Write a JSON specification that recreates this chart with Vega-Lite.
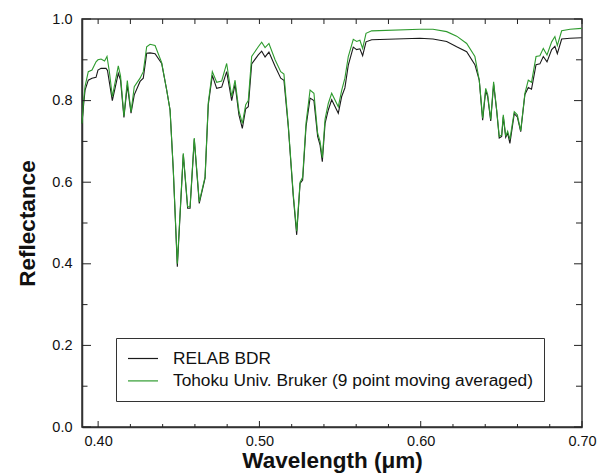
{
  "$schema": "https://vega.github.io/schema/vega-lite/v6.json",
  "width": 500,
  "height": 408,
  "autosize": {"type": "none"},
  "padding": {"left": 82, "top": 19, "right": 22, "bottom": 49},
  "background": "white",
  "config": {
    "font": "Liberation Sans",
    "view": {"stroke": "#333333", "strokeWidth": 1.5},
    "axis": {"domainColor": "#333333", "domainWidth": 1.5, "grid": false, "labelColor": "#111111", "titleColor": "#111111"}
  },
  "datasets": {
    "xt": [
      {"v":0.40,"k":"major"},{"v":0.42,"k":"minor"},{"v":0.44,"k":"minor"},{"v":0.46,"k":"minor"},{"v":0.48,"k":"minor"},
      {"v":0.50,"k":"major"},{"v":0.52,"k":"minor"},{"v":0.54,"k":"minor"},{"v":0.56,"k":"minor"},{"v":0.58,"k":"minor"},
      {"v":0.60,"k":"major"},{"v":0.62,"k":"minor"},{"v":0.64,"k":"minor"},{"v":0.66,"k":"minor"},{"v":0.68,"k":"minor"},
      {"v":0.70,"k":"major"}
    ],
    "yt": [
      {"v":0.0,"k":"major"},{"v":0.1,"k":"minor"},{"v":0.2,"k":"major"},{"v":0.3,"k":"minor"},{"v":0.4,"k":"major"},
      {"v":0.5,"k":"minor"},{"v":0.6,"k":"major"},{"v":0.7,"k":"minor"},{"v":0.8,"k":"major"},{"v":0.9,"k":"minor"},
      {"v":1.0,"k":"major"}
    ],
    "spectra": [
    {"s":"RELAB BDR","w":0.3900,"r":0.744},{"s":"RELAB BDR","w":0.3910,"r":0.790},{"s":"RELAB BDR","w":0.3919,"r":0.826},{"s":"RELAB BDR","w":0.3939,"r":0.850},{"s":"RELAB BDR","w":0.3962,"r":0.855},{"s":"RELAB BDR","w":0.3987,"r":0.857},{"s":"RELAB BDR","w":0.3999,"r":0.875},{"s":"RELAB BDR","w":0.4018,"r":0.879},{"s":"RELAB BDR","w":0.4049,"r":0.879},{"s":"RELAB BDR","w":0.4058,"r":0.874},{"s":"RELAB BDR","w":0.4088,"r":0.800},{"s":"RELAB BDR","w":0.4125,"r":0.867},{"s":"RELAB BDR","w":0.4139,"r":0.850},{"s":"RELAB BDR","w":0.4160,"r":0.759},{"s":"RELAB BDR","w":0.4181,"r":0.838},{"s":"RELAB BDR","w":0.4204,"r":0.769},{"s":"RELAB BDR","w":0.4224,"r":0.814},{"s":"RELAB BDR","w":0.4260,"r":0.847},{"s":"RELAB BDR","w":0.4280,"r":0.855},{"s":"RELAB BDR","w":0.4301,"r":0.916},{"s":"RELAB BDR","w":0.4322,"r":0.917},{"s":"RELAB BDR","w":0.4353,"r":0.915},{"s":"RELAB BDR","w":0.4394,"r":0.891},{"s":"RELAB BDR","w":0.4425,"r":0.826},{"s":"RELAB BDR","w":0.4446,"r":0.777},{"s":"RELAB BDR","w":0.4466,"r":0.630},{"s":"RELAB BDR","w":0.4491,"r":0.393},{"s":"RELAB BDR","w":0.4528,"r":0.668},{"s":"RELAB BDR","w":0.4555,"r":0.536},{"s":"RELAB BDR","w":0.4570,"r":0.536},{"s":"RELAB BDR","w":0.4596,"r":0.705},{"s":"RELAB BDR","w":0.4627,"r":0.548},{"s":"RELAB BDR","w":0.4663,"r":0.610},{"s":"RELAB BDR","w":0.4683,"r":0.790},{"s":"RELAB BDR","w":0.4708,"r":0.862},{"s":"RELAB BDR","w":0.4735,"r":0.830},{"s":"RELAB BDR","w":0.4766,"r":0.833},{"s":"RELAB BDR","w":0.4797,"r":0.871},{"s":"RELAB BDR","w":0.4828,"r":0.800},{"s":"RELAB BDR","w":0.4849,"r":0.840},{"s":"RELAB BDR","w":0.4873,"r":0.765},{"s":"RELAB BDR","w":0.4894,"r":0.732},{"s":"RELAB BDR","w":0.4915,"r":0.780},{"s":"RELAB BDR","w":0.4931,"r":0.785},{"s":"RELAB BDR","w":0.4952,"r":0.890},{"s":"RELAB BDR","w":0.4993,"r":0.912},{"s":"RELAB BDR","w":0.5014,"r":0.921},{"s":"RELAB BDR","w":0.5035,"r":0.907},{"s":"RELAB BDR","w":0.5059,"r":0.919},{"s":"RELAB BDR","w":0.5097,"r":0.884},{"s":"RELAB BDR","w":0.5132,"r":0.855},{"s":"RELAB BDR","w":0.5152,"r":0.850},{"s":"RELAB BDR","w":0.5179,"r":0.736},{"s":"RELAB BDR","w":0.5210,"r":0.565},{"s":"RELAB BDR","w":0.5231,"r":0.471},{"s":"RELAB BDR","w":0.5252,"r":0.597},{"s":"RELAB BDR","w":0.5268,"r":0.605},{"s":"RELAB BDR","w":0.5289,"r":0.736},{"s":"RELAB BDR","w":0.5314,"r":0.806},{"s":"RELAB BDR","w":0.5338,"r":0.800},{"s":"RELAB BDR","w":0.5361,"r":0.712},{"s":"RELAB BDR","w":0.5376,"r":0.691},{"s":"RELAB BDR","w":0.5390,"r":0.650},{"s":"RELAB BDR","w":0.5407,"r":0.744},{"s":"RELAB BDR","w":0.5427,"r":0.777},{"s":"RELAB BDR","w":0.5448,"r":0.802},{"s":"RELAB BDR","w":0.5489,"r":0.769},{"s":"RELAB BDR","w":0.5510,"r":0.810},{"s":"RELAB BDR","w":0.5530,"r":0.831},{"s":"RELAB BDR","w":0.5551,"r":0.887},{"s":"RELAB BDR","w":0.5582,"r":0.931},{"s":"RELAB BDR","w":0.5603,"r":0.925},{"s":"RELAB BDR","w":0.5623,"r":0.927},{"s":"RELAB BDR","w":0.5640,"r":0.910},{"s":"RELAB BDR","w":0.5661,"r":0.944},{"s":"RELAB BDR","w":0.5696,"r":0.949},{"s":"RELAB BDR","w":0.5995,"r":0.953},{"s":"RELAB BDR","w":0.6076,"r":0.951},{"s":"RELAB BDR","w":0.6161,"r":0.945},{"s":"RELAB BDR","w":0.6223,"r":0.932},{"s":"RELAB BDR","w":0.6285,"r":0.920},{"s":"RELAB BDR","w":0.6336,"r":0.888},{"s":"RELAB BDR","w":0.6363,"r":0.850},{"s":"RELAB BDR","w":0.6384,"r":0.752},{"s":"RELAB BDR","w":0.6403,"r":0.825},{"s":"RELAB BDR","w":0.6415,"r":0.810},{"s":"RELAB BDR","w":0.6434,"r":0.750},{"s":"RELAB BDR","w":0.6452,"r":0.840},{"s":"RELAB BDR","w":0.6471,"r":0.775},{"s":"RELAB BDR","w":0.6487,"r":0.708},{"s":"RELAB BDR","w":0.6502,"r":0.712},{"s":"RELAB BDR","w":0.6512,"r":0.760},{"s":"RELAB BDR","w":0.6527,"r":0.710},{"s":"RELAB BDR","w":0.6539,"r":0.720},{"s":"RELAB BDR","w":0.6553,"r":0.695},{"s":"RELAB BDR","w":0.6580,"r":0.768},{"s":"RELAB BDR","w":0.6599,"r":0.760},{"s":"RELAB BDR","w":0.6620,"r":0.724},{"s":"RELAB BDR","w":0.6646,"r":0.815},{"s":"RELAB BDR","w":0.6667,"r":0.832},{"s":"RELAB BDR","w":0.6687,"r":0.828},{"s":"RELAB BDR","w":0.6715,"r":0.888},{"s":"RELAB BDR","w":0.6739,"r":0.890},{"s":"RELAB BDR","w":0.6760,"r":0.908},{"s":"RELAB BDR","w":0.6783,"r":0.895},{"s":"RELAB BDR","w":0.6812,"r":0.925},{"s":"RELAB BDR","w":0.6832,"r":0.933},{"s":"RELAB BDR","w":0.6847,"r":0.915},{"s":"RELAB BDR","w":0.6874,"r":0.951},{"s":"RELAB BDR","w":0.6926,"r":0.953},{"s":"RELAB BDR","w":0.6998,"r":0.954},
    {"s":"Tohoku Univ. Bruker (9 point moving averaged)","w":0.3900,"r":0.744},{"s":"Tohoku Univ. Bruker (9 point moving averaged)","w":0.3910,"r":0.800},{"s":"Tohoku Univ. Bruker (9 point moving averaged)","w":0.3919,"r":0.835},{"s":"Tohoku Univ. Bruker (9 point moving averaged)","w":0.3939,"r":0.871},{"s":"Tohoku Univ. Bruker (9 point moving averaged)","w":0.3962,"r":0.875},{"s":"Tohoku Univ. Bruker (9 point moving averaged)","w":0.3987,"r":0.895},{"s":"Tohoku Univ. Bruker (9 point moving averaged)","w":0.3999,"r":0.900},{"s":"Tohoku Univ. Bruker (9 point moving averaged)","w":0.4018,"r":0.902},{"s":"Tohoku Univ. Bruker (9 point moving averaged)","w":0.4040,"r":0.897},{"s":"Tohoku Univ. Bruker (9 point moving averaged)","w":0.4055,"r":0.908},{"s":"Tohoku Univ. Bruker (9 point moving averaged)","w":0.4070,"r":0.870},{"s":"Tohoku Univ. Bruker (9 point moving averaged)","w":0.4088,"r":0.810},{"s":"Tohoku Univ. Bruker (9 point moving averaged)","w":0.4125,"r":0.885},{"s":"Tohoku Univ. Bruker (9 point moving averaged)","w":0.4139,"r":0.860},{"s":"Tohoku Univ. Bruker (9 point moving averaged)","w":0.4160,"r":0.762},{"s":"Tohoku Univ. Bruker (9 point moving averaged)","w":0.4181,"r":0.849},{"s":"Tohoku Univ. Bruker (9 point moving averaged)","w":0.4204,"r":0.772},{"s":"Tohoku Univ. Bruker (9 point moving averaged)","w":0.4224,"r":0.834},{"s":"Tohoku Univ. Bruker (9 point moving averaged)","w":0.4260,"r":0.855},{"s":"Tohoku Univ. Bruker (9 point moving averaged)","w":0.4280,"r":0.871},{"s":"Tohoku Univ. Bruker (9 point moving averaged)","w":0.4301,"r":0.932},{"s":"Tohoku Univ. Bruker (9 point moving averaged)","w":0.4322,"r":0.938},{"s":"Tohoku Univ. Bruker (9 point moving averaged)","w":0.4353,"r":0.935},{"s":"Tohoku Univ. Bruker (9 point moving averaged)","w":0.4394,"r":0.893},{"s":"Tohoku Univ. Bruker (9 point moving averaged)","w":0.4425,"r":0.826},{"s":"Tohoku Univ. Bruker (9 point moving averaged)","w":0.4446,"r":0.777},{"s":"Tohoku Univ. Bruker (9 point moving averaged)","w":0.4466,"r":0.630},{"s":"Tohoku Univ. Bruker (9 point moving averaged)","w":0.4491,"r":0.400},{"s":"Tohoku Univ. Bruker (9 point moving averaged)","w":0.4528,"r":0.671},{"s":"Tohoku Univ. Bruker (9 point moving averaged)","w":0.4555,"r":0.540},{"s":"Tohoku Univ. Bruker (9 point moving averaged)","w":0.4570,"r":0.540},{"s":"Tohoku Univ. Bruker (9 point moving averaged)","w":0.4596,"r":0.708},{"s":"Tohoku Univ. Bruker (9 point moving averaged)","w":0.4627,"r":0.552},{"s":"Tohoku Univ. Bruker (9 point moving averaged)","w":0.4663,"r":0.613},{"s":"Tohoku Univ. Bruker (9 point moving averaged)","w":0.4683,"r":0.795},{"s":"Tohoku Univ. Bruker (9 point moving averaged)","w":0.4708,"r":0.871},{"s":"Tohoku Univ. Bruker (9 point moving averaged)","w":0.4735,"r":0.845},{"s":"Tohoku Univ. Bruker (9 point moving averaged)","w":0.4766,"r":0.848},{"s":"Tohoku Univ. Bruker (9 point moving averaged)","w":0.4797,"r":0.891},{"s":"Tohoku Univ. Bruker (9 point moving averaged)","w":0.4828,"r":0.810},{"s":"Tohoku Univ. Bruker (9 point moving averaged)","w":0.4849,"r":0.850},{"s":"Tohoku Univ. Bruker (9 point moving averaged)","w":0.4873,"r":0.775},{"s":"Tohoku Univ. Bruker (9 point moving averaged)","w":0.4894,"r":0.744},{"s":"Tohoku Univ. Bruker (9 point moving averaged)","w":0.4915,"r":0.790},{"s":"Tohoku Univ. Bruker (9 point moving averaged)","w":0.4931,"r":0.800},{"s":"Tohoku Univ. Bruker (9 point moving averaged)","w":0.4952,"r":0.908},{"s":"Tohoku Univ. Bruker (9 point moving averaged)","w":0.4993,"r":0.932},{"s":"Tohoku Univ. Bruker (9 point moving averaged)","w":0.5014,"r":0.943},{"s":"Tohoku Univ. Bruker (9 point moving averaged)","w":0.5035,"r":0.930},{"s":"Tohoku Univ. Bruker (9 point moving averaged)","w":0.5059,"r":0.940},{"s":"Tohoku Univ. Bruker (9 point moving averaged)","w":0.5097,"r":0.900},{"s":"Tohoku Univ. Bruker (9 point moving averaged)","w":0.5132,"r":0.871},{"s":"Tohoku Univ. Bruker (9 point moving averaged)","w":0.5152,"r":0.865},{"s":"Tohoku Univ. Bruker (9 point moving averaged)","w":0.5179,"r":0.740},{"s":"Tohoku Univ. Bruker (9 point moving averaged)","w":0.5210,"r":0.570},{"s":"Tohoku Univ. Bruker (9 point moving averaged)","w":0.5231,"r":0.480},{"s":"Tohoku Univ. Bruker (9 point moving averaged)","w":0.5252,"r":0.600},{"s":"Tohoku Univ. Bruker (9 point moving averaged)","w":0.5268,"r":0.612},{"s":"Tohoku Univ. Bruker (9 point moving averaged)","w":0.5289,"r":0.745},{"s":"Tohoku Univ. Bruker (9 point moving averaged)","w":0.5314,"r":0.826},{"s":"Tohoku Univ. Bruker (9 point moving averaged)","w":0.5338,"r":0.818},{"s":"Tohoku Univ. Bruker (9 point moving averaged)","w":0.5361,"r":0.720},{"s":"Tohoku Univ. Bruker (9 point moving averaged)","w":0.5376,"r":0.700},{"s":"Tohoku Univ. Bruker (9 point moving averaged)","w":0.5390,"r":0.660},{"s":"Tohoku Univ. Bruker (9 point moving averaged)","w":0.5407,"r":0.755},{"s":"Tohoku Univ. Bruker (9 point moving averaged)","w":0.5427,"r":0.793},{"s":"Tohoku Univ. Bruker (9 point moving averaged)","w":0.5448,"r":0.818},{"s":"Tohoku Univ. Bruker (9 point moving averaged)","w":0.5489,"r":0.785},{"s":"Tohoku Univ. Bruker (9 point moving averaged)","w":0.5510,"r":0.825},{"s":"Tohoku Univ. Bruker (9 point moving averaged)","w":0.5530,"r":0.855},{"s":"Tohoku Univ. Bruker (9 point moving averaged)","w":0.5551,"r":0.908},{"s":"Tohoku Univ. Bruker (9 point moving averaged)","w":0.5582,"r":0.950},{"s":"Tohoku Univ. Bruker (9 point moving averaged)","w":0.5603,"r":0.945},{"s":"Tohoku Univ. Bruker (9 point moving averaged)","w":0.5623,"r":0.948},{"s":"Tohoku Univ. Bruker (9 point moving averaged)","w":0.5640,"r":0.928},{"s":"Tohoku Univ. Bruker (9 point moving averaged)","w":0.5661,"r":0.965},{"s":"Tohoku Univ. Bruker (9 point moving averaged)","w":0.5696,"r":0.971},{"s":"Tohoku Univ. Bruker (9 point moving averaged)","w":0.5995,"r":0.975},{"s":"Tohoku Univ. Bruker (9 point moving averaged)","w":0.6076,"r":0.975},{"s":"Tohoku Univ. Bruker (9 point moving averaged)","w":0.6161,"r":0.969},{"s":"Tohoku Univ. Bruker (9 point moving averaged)","w":0.6223,"r":0.958},{"s":"Tohoku Univ. Bruker (9 point moving averaged)","w":0.6285,"r":0.940},{"s":"Tohoku Univ. Bruker (9 point moving averaged)","w":0.6336,"r":0.908},{"s":"Tohoku Univ. Bruker (9 point moving averaged)","w":0.6363,"r":0.850},{"s":"Tohoku Univ. Bruker (9 point moving averaged)","w":0.6384,"r":0.757},{"s":"Tohoku Univ. Bruker (9 point moving averaged)","w":0.6403,"r":0.830},{"s":"Tohoku Univ. Bruker (9 point moving averaged)","w":0.6415,"r":0.815},{"s":"Tohoku Univ. Bruker (9 point moving averaged)","w":0.6434,"r":0.754},{"s":"Tohoku Univ. Bruker (9 point moving averaged)","w":0.6452,"r":0.846},{"s":"Tohoku Univ. Bruker (9 point moving averaged)","w":0.6471,"r":0.777},{"s":"Tohoku Univ. Bruker (9 point moving averaged)","w":0.6487,"r":0.712},{"s":"Tohoku Univ. Bruker (9 point moving averaged)","w":0.6502,"r":0.716},{"s":"Tohoku Univ. Bruker (9 point moving averaged)","w":0.6512,"r":0.765},{"s":"Tohoku Univ. Bruker (9 point moving averaged)","w":0.6527,"r":0.713},{"s":"Tohoku Univ. Bruker (9 point moving averaged)","w":0.6539,"r":0.725},{"s":"Tohoku Univ. Bruker (9 point moving averaged)","w":0.6553,"r":0.705},{"s":"Tohoku Univ. Bruker (9 point moving averaged)","w":0.6580,"r":0.773},{"s":"Tohoku Univ. Bruker (9 point moving averaged)","w":0.6599,"r":0.765},{"s":"Tohoku Univ. Bruker (9 point moving averaged)","w":0.6620,"r":0.726},{"s":"Tohoku Univ. Bruker (9 point moving averaged)","w":0.6646,"r":0.818},{"s":"Tohoku Univ. Bruker (9 point moving averaged)","w":0.6667,"r":0.850},{"s":"Tohoku Univ. Bruker (9 point moving averaged)","w":0.6687,"r":0.845},{"s":"Tohoku Univ. Bruker (9 point moving averaged)","w":0.6715,"r":0.908},{"s":"Tohoku Univ. Bruker (9 point moving averaged)","w":0.6739,"r":0.910},{"s":"Tohoku Univ. Bruker (9 point moving averaged)","w":0.6760,"r":0.928},{"s":"Tohoku Univ. Bruker (9 point moving averaged)","w":0.6783,"r":0.912},{"s":"Tohoku Univ. Bruker (9 point moving averaged)","w":0.6812,"r":0.944},{"s":"Tohoku Univ. Bruker (9 point moving averaged)","w":0.6832,"r":0.957},{"s":"Tohoku Univ. Bruker (9 point moving averaged)","w":0.6847,"r":0.935},{"s":"Tohoku Univ. Bruker (9 point moving averaged)","w":0.6874,"r":0.971},{"s":"Tohoku Univ. Bruker (9 point moving averaged)","w":0.6926,"r":0.975},{"s":"Tohoku Univ. Bruker (9 point moving averaged)","w":0.6998,"r":0.977}
    ]
  },
  "layer": [
    {
      "data": {"name": "spectra"},
      "mark": {"type": "line", "strokeWidth": 1.1, "interpolate": "linear"},
      "encoding": {
        "x": {"field": "w", "type": "quantitative", "scale": {"domain": [0.39, 0.70], "nice": false, "zero": false},
          "axis": {"orient": "bottom", "title": "Wavelength (\u03bcm)", "titleFontSize": 22.5, "titleFontWeight": "bold", "titlePadding": 2,
            "values": [0.40, 0.50, 0.60, 0.70], "format": ".2f",
            "labelFontSize": 14.5, "labelPadding": 7, "labelFlush": false, "labelOverlap": false,
            "ticks": false, "tickSize": 0}},
        "y": {"field": "r", "type": "quantitative", "scale": {"domain": [0, 1], "nice": false},
          "axis": {"orient": "left", "title": "Reflectance", "titleFontSize": 22.5, "titleFontWeight": "bold", "titlePadding": 12,
            "values": [0, 0.2, 0.4, 0.6, 0.8, 1.0], "format": ".1f",
            "labelFontSize": 14.5, "labelPadding": 10, "labelFlush": false, "labelOverlap": false,
            "ticks": false, "tickSize": 0}},
        "color": {"field": "s", "type": "nominal",
          "scale": {"domain": ["RELAB BDR", "Tohoku Univ. Bruker (9 point moving averaged)"], "range": ["#1a1a1a", "#2e9b2e"]},
          "legend": {"title": null, "orient": "none", "legendX": 34, "legendY": 319, "direction": "vertical",
            "strokeColor": "#333333", "padding": 11, "fillColor": "white",
            "symbolType": "M-1,0H2.53", "symbolSize": 289, "symbolStrokeWidth": 1.2, "labelOffset": 27,
            "labelFontSize": 17.3, "labelLimit": 1000, "rowPadding": 4.4, "labelColor": "#111111"}}
      }
    },
    {
      "data": {"name": "xt"},
      "transform": [{"filter": "datum.k == 'major'"}],
      "mark": {"type": "tick", "orient": "vertical", "size": 6, "thickness": 1, "yOffset": -3, "color": "#222222", "opacity": 1},
      "encoding": {"x": {"field": "v", "type": "quantitative"}, "y": {"datum": 0, "type": "quantitative"}}
    },
    {
      "data": {"name": "xt"},
      "transform": [{"filter": "datum.k == 'minor'"}],
      "mark": {"type": "tick", "orient": "vertical", "size": 3, "thickness": 1, "yOffset": -1.5, "color": "#222222", "opacity": 1},
      "encoding": {"x": {"field": "v", "type": "quantitative"}, "y": {"datum": 0, "type": "quantitative"}}
    },
    {
      "data": {"name": "xt"},
      "mark": {"type": "tick", "orient": "vertical", "size": 5, "thickness": 1, "yOffset": 2.5, "color": "#222222", "opacity": 1},
      "encoding": {"x": {"field": "v", "type": "quantitative"}, "y": {"datum": 1, "type": "quantitative"}}
    },
    {
      "data": {"name": "yt"},
      "transform": [{"filter": "datum.k == 'major'"}],
      "mark": {"type": "tick", "orient": "horizontal", "size": 9, "thickness": 1, "xOffset": 4.5, "color": "#222222", "opacity": 1},
      "encoding": {"y": {"field": "v", "type": "quantitative"}, "x": {"datum": 0.39, "type": "quantitative"}}
    },
    {
      "data": {"name": "yt"},
      "transform": [{"filter": "datum.k == 'minor'"}],
      "mark": {"type": "tick", "orient": "horizontal", "size": 5.5, "thickness": 1, "xOffset": 2.75, "color": "#222222", "opacity": 1},
      "encoding": {"y": {"field": "v", "type": "quantitative"}, "x": {"datum": 0.39, "type": "quantitative"}}
    },
    {
      "data": {"name": "yt"},
      "transform": [{"filter": "datum.k == 'major'"}],
      "mark": {"type": "tick", "orient": "horizontal", "size": 8, "thickness": 1, "xOffset": -4, "color": "#222222", "opacity": 1},
      "encoding": {"y": {"field": "v", "type": "quantitative"}, "x": {"datum": 0.70, "type": "quantitative"}}
    },
    {
      "data": {"name": "yt"},
      "transform": [{"filter": "datum.k == 'minor'"}],
      "mark": {"type": "tick", "orient": "horizontal", "size": 6, "thickness": 1, "xOffset": -3, "color": "#222222", "opacity": 1},
      "encoding": {"y": {"field": "v", "type": "quantitative"}, "x": {"datum": 0.70, "type": "quantitative"}}
    }
  ]
}
